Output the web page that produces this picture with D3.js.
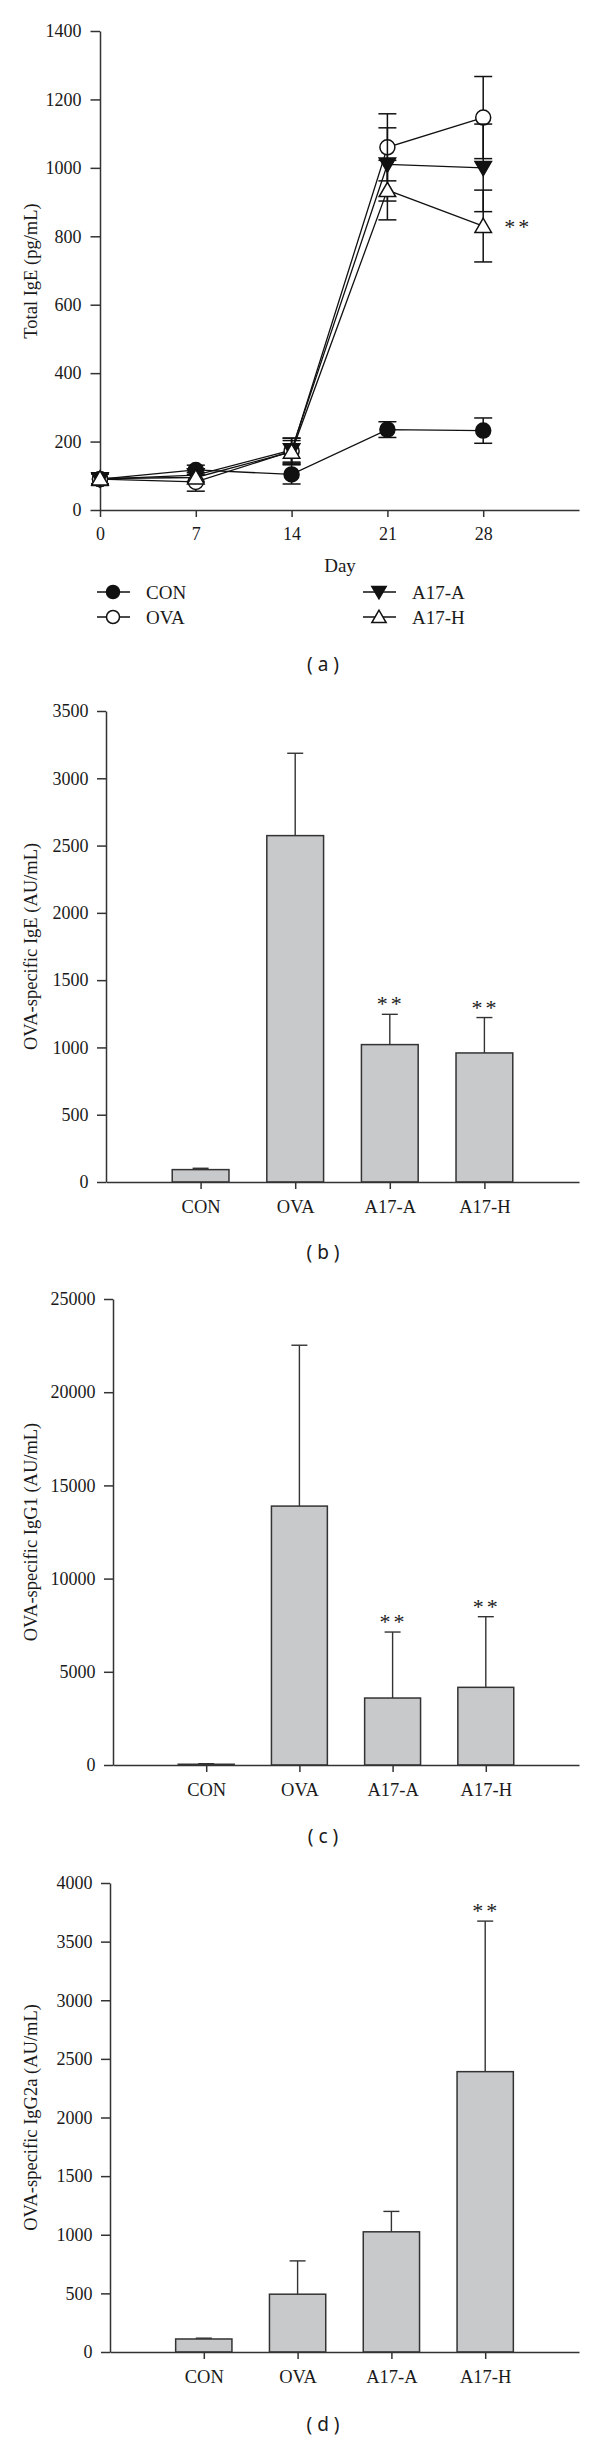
<!DOCTYPE html>
<html>
<head>
<meta charset="utf-8">
<script src="https://cdn.jsdelivr.net/npm/d3@7"></script>
<style>
body { margin: 0; background: #fff; }
svg text { font-family: "Liberation Serif", "Times New Roman", serif; fill: #1a1a1a; }
.axis path, .axis line { stroke: #333; stroke-width: 1.5; }
</style>
</head>
<body>
<div id="chart"></div>
<script>
// panel (a): total IgE by day
var days = [0, 7, 14, 21, 28];
var conIgE = [90, 117, 104, 235, 232];
var conErr = [18, 14, 28, 23, 37];
var ovaIgE = [90, 82, 172, 1060, 1147];
var ovaErr = [18, 27, 38, 98, 120];
var a17aIgE = [90, 102, 175, 1010, 1000];
var a17aErr = [15, 18, 35, 107, 128];
var a17hIgE = [92, 95, 170, 935, 830];
var a17hErr = [15, 15, 33, 87, 105];
var ticksA = [0, 200, 400, 600, 800, 1000, 1200, 1400];

// panels (b)-(d): bar charts
var groups = ["CON", "OVA", "A17-A", "A17-H"];
var ovaIgEBar = [92, 2574, 1021, 959];
var ovaIgEErr = [10, 612, 225, 263];
var ticksB = [0, 500, 1000, 1500, 2000, 2500, 3000, 3500];
var igG1 = [40, 13890, 3593, 4166];
var igG1Err = [30, 8630, 3540, 3790];
var ticksC = [0, 5000, 10000, 15000, 20000, 25000];
var igG2a = [111, 493, 1025, 2391];
var igG2aErr = [7, 284, 174, 1284];
var ticksD = [0, 500, 1000, 1500, 2000, 2500, 3000, 3500, 4000];

var fmt = d3.format("d");

var svg = d3.select("#chart").append("svg")
	.attr("width", 600)
	.attr("height", 2441);

function styleAxis(g, size) {
	g.attr("class", "axis");
	g.selectAll("text")
		.attr("font-size", size)
		.style("font-family", "Liberation Serif, serif")
		.attr("fill", "#1a1a1a");
}

function yLabel(cx, cy, txt) {
	svg.append("text")
		.attr("transform", "translate(" + cx + "," + cy + ") rotate(-90)")
		.attr("text-anchor", "middle")
		.attr("dominant-baseline", "central")
		.attr("font-size", 18.5)
		.text(txt);
}

function panelLabel(cy, txt) {
	svg.append("text")
		.attr("x", 323)
		.attr("y", cy + 6)
		.attr("text-anchor", "middle")
		.attr("font-size", 19)
		.style("font-family", "Noto Sans, DejaVu Sans, sans-serif")
		.text(txt);
}

function stars(x, y, anchor) {
	svg.append("text")
		.attr("x", x)
		.attr("y", y)
		.attr("text-anchor", anchor || "middle")
		.attr("font-size", 22)
		.attr("letter-spacing", 3)
		.attr("fill", "#1a1a1a")
		.text("**");
}

// ---------- (a) ----------
var xA = d3.scaleLinear().domain([0, 35]).range([100, 579]);
var yA = d3.scaleLinear().domain([0, 1400]).range([510, 31]);

var gy = svg.append("g").attr("transform", "translate(100,0)")
	.call(d3.axisLeft(yA).tickValues(ticksA).tickFormat(fmt).tickSize(9.5).tickSizeOuter(0).tickPadding(9));
styleAxis(gy, 18);
var gx = svg.append("g").attr("transform", "translate(0,510)")
	.call(d3.axisBottom(xA).tickValues(days).tickFormat(fmt).tickSize(7).tickSizeOuter(0).tickPadding(10));
styleAxis(gx, 18);

yLabel(31, 271, "Total IgE (pg/mL)");
svg.append("text").attr("x", 340).attr("y", 572).attr("text-anchor", "middle")
	.attr("font-size", 19).text("Day");

var series = [
	{ name: "CON", vals: conIgE, err: conErr, shape: "circle", fill: "#111" },
	{ name: "OVA", vals: ovaIgE, err: ovaErr, shape: "circle", fill: "#fff" },
	{ name: "A17-A", vals: a17aIgE, err: a17aErr, shape: "down", fill: "#111" },
	{ name: "A17-H", vals: a17hIgE, err: a17hErr, shape: "up", fill: "#fff" }
];

function marker(g, shape, fill, cx, cy, s) {
	if (shape === "circle") {
		g.append("circle").attr("cx", cx).attr("cy", cy).attr("r", s)
			.attr("fill", fill).attr("stroke", "#111").attr("stroke-width", 1.5);
	} else {
		var h = s * 1.9, w = s * 1.1;
		var pts = shape === "up"
			? [[cx, cy - h * 0.55], [cx - w, cy + h * 0.45], [cx + w, cy + h * 0.45]]
			: [[cx, cy + h * 0.55], [cx - w, cy - h * 0.45], [cx + w, cy - h * 0.45]];
		g.append("polygon").attr("points", pts.map(function (p) { return p.join(","); }).join(" "))
			.attr("fill", fill).attr("stroke", "#111").attr("stroke-width", 1.5);
	}
}

var line = d3.line()
	.x(function (d) { return xA(d[0]); })
	.y(function (d) { return yA(d[1]); });

series.forEach(function (s) {
	svg.append("path")
		.datum(days.map(function (d, i) { return [d, s.vals[i]]; }))
		.attr("d", line)
		.attr("fill", "none")
		.attr("stroke", "#111")
		.attr("stroke-width", 1.3);
});

series.forEach(function (s) {
	var g = svg.append("g");
	days.forEach(function (d, i) {
		var cx = xA(d);
		var top = yA(s.vals[i] + s.err[i]), bot = yA(s.vals[i] - s.err[i]);
		g.append("line").attr("x1", cx).attr("x2", cx).attr("y1", top).attr("y2", bot)
			.attr("stroke", "#111").attr("stroke-width", 1.5);
		[top, bot].forEach(function (yy) {
			g.append("line").attr("x1", cx - 9).attr("x2", cx + 9).attr("y1", yy).attr("y2", yy)
				.attr("stroke", "#111").attr("stroke-width", 1.5);
		});
	});
	days.forEach(function (d, i) {
		marker(g, s.shape, s.fill, xA(d), yA(s.vals[i]), 7.5);
	});
});

stars(xA(28) + 21, yA(a17hIgE[4]) + 8, "start");

// legend
var legendPos = [[113, 592], [113, 617], [379, 592], [379, 617]];
series.forEach(function (s, i) {
	var lx = legendPos[i][0], ly = legendPos[i][1];
	svg.append("line").attr("x1", lx - 16).attr("x2", lx + 17).attr("y1", ly).attr("y2", ly)
		.attr("stroke", "#111").attr("stroke-width", 1.3);
	marker(svg, s.shape, s.fill, lx, ly, 6.5);
	svg.append("text").attr("x", lx + 33).attr("y", ly + 6.5)
		.attr("font-size", 19).text(s.name);
});

panelLabel(665, "( a )");

// ---------- bar panels ----------
function barPanel(opts) {
	var x = d3.scalePoint().domain(groups).range([opts.left, 579]).padding(1);
	var y = d3.scaleLinear().domain([0, opts.max]).range([opts.bottom, opts.top]);
	var bw = x.step() * 0.6;

	var gyb = svg.append("g").attr("transform", "translate(" + opts.left + ",0)")
		.call(d3.axisLeft(y).tickValues(opts.ticks).tickFormat(fmt).tickSize(9).tickSizeOuter(0).tickPadding(8.5));
	styleAxis(gyb, 18);

	svg.selectAll(null)
		.data(groups)
		.enter()
		.append("rect")
		.attr("x", function (d) { return x(d) - bw / 2; })
		.attr("y", function (d, i) { return y(opts.vals[i]); })
		.attr("width", bw)
		.attr("height", function (d, i) { return opts.bottom - y(opts.vals[i]); })
		.attr("fill", "#c8c9cb")
		.attr("stroke", "#333")
		.attr("stroke-width", 1.5);

	groups.forEach(function (d, i) {
		var cx = x(d), top = y(opts.vals[i] + opts.err[i]);
		svg.append("line").attr("x1", cx).attr("x2", cx)
			.attr("y1", y(opts.vals[i])).attr("y2", top)
			.attr("stroke", "#333").attr("stroke-width", 1.4);
		svg.append("line").attr("x1", cx - 8).attr("x2", cx + 8)
			.attr("y1", top).attr("y2", top)
			.attr("stroke", "#333").attr("stroke-width", 1.4);
		if (opts.sig.indexOf(d) >= 0) {
			stars(cx + 1, top - 3);
		}
	});

	var gxb = svg.append("g").attr("transform", "translate(0," + opts.bottom + ")")
		.call(d3.axisBottom(x).tickSize(7).tickSizeOuter(0).tickPadding(11));
	styleAxis(gxb, 18.5);

	yLabel(31, (opts.top + opts.bottom) / 2, opts.label);
	panelLabel(opts.tag, opts.tagText);
}

barPanel({
	left: 106, top: 711, bottom: 1182, max: 3500, ticks: ticksB,
	vals: ovaIgEBar, err: ovaIgEErr, sig: ["A17-A", "A17-H"],
	label: "OVA-specific IgE (AU/mL)", tag: 1253, tagText: "( b )"
});

barPanel({
	left: 113, top: 1299, bottom: 1765, max: 25000, ticks: ticksC,
	vals: igG1, err: igG1Err, sig: ["A17-A", "A17-H"],
	label: "OVA-specific IgG1 (AU/mL)", tag: 1837, tagText: "( c )"
});

barPanel({
	left: 110, top: 1883, bottom: 2352, max: 4000, ticks: ticksD,
	vals: igG2a, err: igG2aErr, sig: ["A17-H"],
	label: "OVA-specific IgG2a (AU/mL)", tag: 2425, tagText: "( d )"
});
</script>
</body>
</html>
